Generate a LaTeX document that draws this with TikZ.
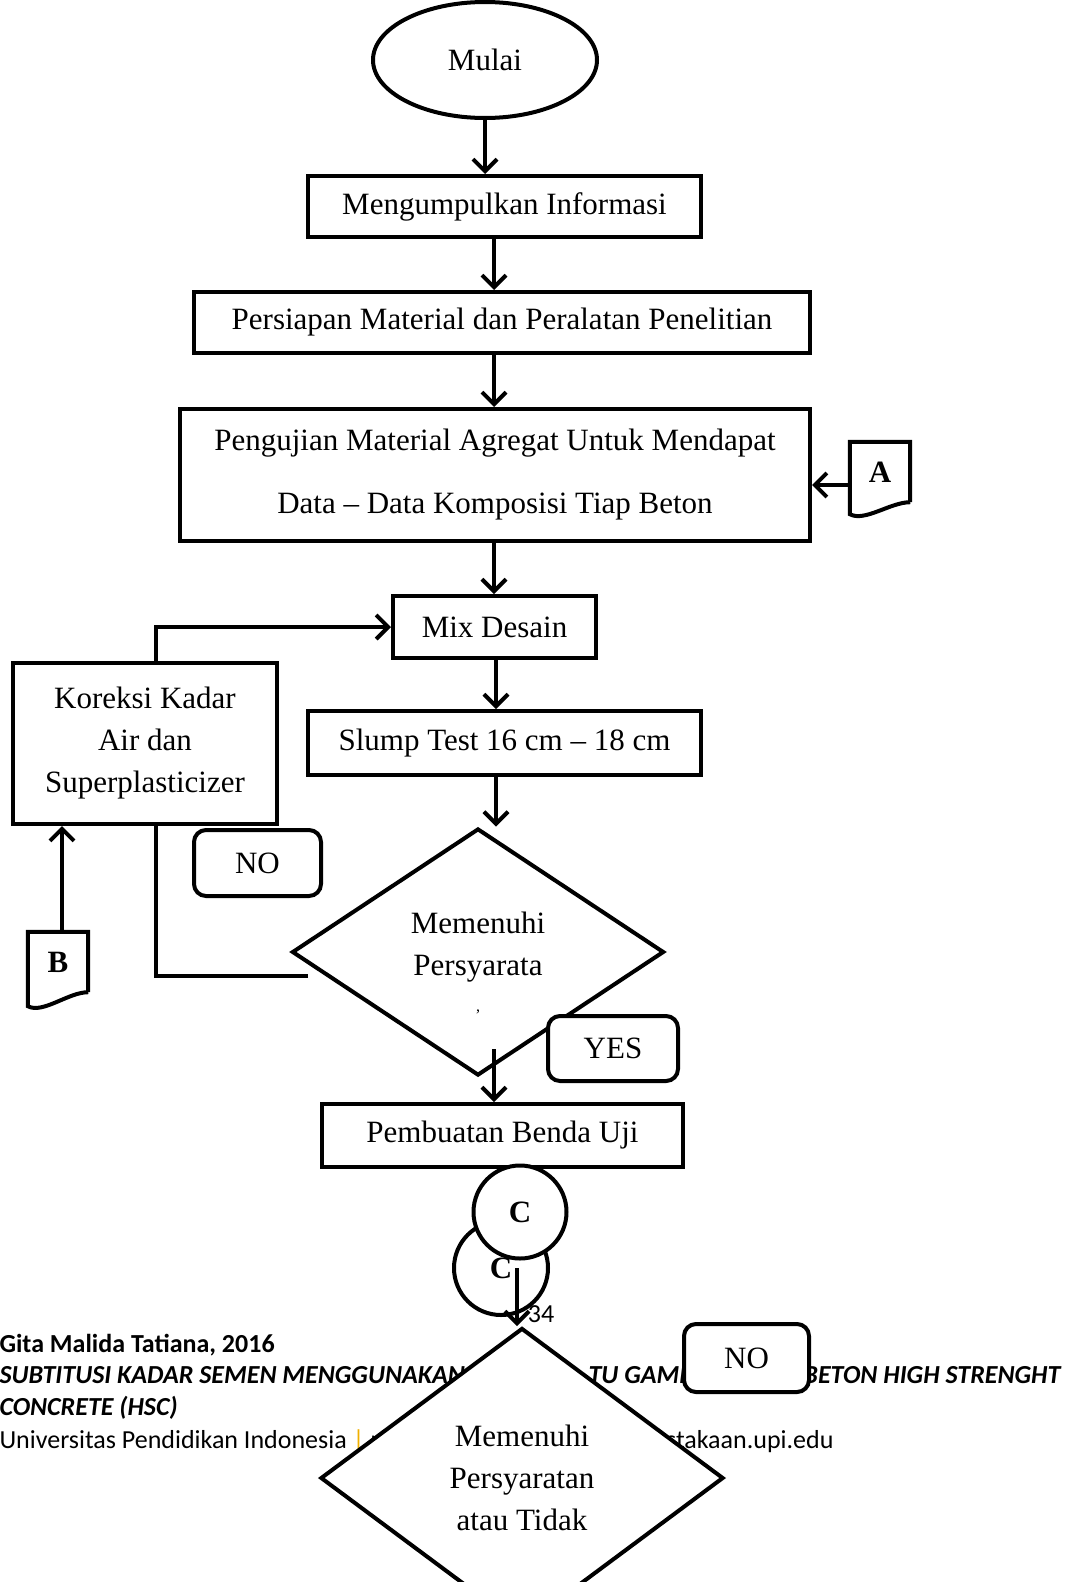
\documentclass[tikz,border=0pt]{standalone}
\usepackage{fontspec}
\setmainfont{Liberation Serif}
\newfontfamily\footfont{Carlito}
\usetikzlibrary{shapes.geometric,arrows.meta}

\definecolor{kuning}{RGB}{240,176,0}

\tikzset{
  garis/.style={line width=4pt},
  panah/.style={garis,-{Straight Barb[length=12pt,width=24pt]}},
  teks/.style={font=\fontsize{31}{42}\selectfont},
  kotak/.style={teks,draw,garis,fill=white,inner sep=0pt,align=center},
  tombol/.style={kotak,rounded corners=12pt},
  keputusan/.style={kotak,diamond,aspect=1.45},
  lingkaran/.style={kotak,circle,font=\fontsize{31}{31}\selectfont\bfseries},
  dokumen/.style={teks,font=\fontsize{31}{31}\selectfont\bfseries,minimum width=60pt,minimum height=60pt,inner sep=0pt},
  kaki/.style={anchor=base west,font=\footfont\fontsize{26}{26}\selectfont},
  kakitebal/.style={kaki,font=\footfont\bfseries\fontsize{26}{26}\selectfont},
  kakimiring/.style={kaki,font=\footfont\bfseries\itshape\fontsize{26}{26}\selectfont}
}

\begin{document}
\begin{tikzpicture}[x=1pt,y=-1pt]
\clip (0,0) rectangle (1073,1582);

% kaki halaman
\node[kakitebal] (kaki1) at (-4,1352) {Gita Malida Tatiana,\ 2016};
\node[kakimiring] (kaki2) at (-4,1383) {SUBTITUSI KADAR SEMEN MENGGUNAKAN};
\node[kakimiring] (kaki2b) at (585,1383) {TU GAMPING};
\node[kakimiring,anchor=base east] (kaki2c) at (1064,1383) {BETON HIGH STRENGHT};
\node[kakimiring] (kaki3) at (-4,1415) {CONCRETE (HSC)};
\node[kaki] (kaki4) at (-4,1448) {Universitas Pendidikan Indonesia \textcolor{kuning}{|} repository.upi.edu \textcolor{kuning}{|}};
\node[kaki,anchor=base east] (kaki4b) at (837,1448) {perpustakaan.upi.edu};

% alur utama
\node[kotak,ellipse,minimum width=224pt,minimum height=116pt] (mulai) at (485,60) {Mulai};
\node[kotak,minimum width=393pt,minimum height=61pt] (info) at (504.5,206.5) {Mengumpulkan Informasi};
\node[kotak,minimum width=616pt,minimum height=61pt] (persiapan) at (502,322.5) {Persiapan Material dan Peralatan Penelitian};
\node[kotak,minimum width=630pt,minimum height=132pt,font=\fontsize{31}{63}\selectfont] (pengujian) at (495,475) {Pengujian Material Agregat Untuk Mendapat\\Data -- Data Komposisi Tiap Beton};
\node[kotak,minimum width=203pt,minimum height=62pt] (mix) at (494.5,627) {Mix Desain};
\node[kotak,minimum width=393pt,minimum height=64pt] (slump) at (504.5,743) {Slump Test 16 cm -- 18 cm};
\node[kotak,minimum width=264pt,minimum height=161pt] (koreksi) at (145,743.5) {Koreksi Kadar\\Air dan\\Superplasticizer};
\node[tombol,minimum width=127pt,minimum height=66pt] (tidak1) at (257.5,863) {NO};
\node[keputusan,minimum width=372pt,minimum height=247pt] (uji1) at (478,952)
  {\raisebox{-12pt}[\height][\depth]{\begin{tabular}{@{}c@{}}Memenuhi\\Persyarata\\[-6pt]{\fontsize{16}{16}\selectfont ,}\end{tabular}}};
\node[tombol,minimum width=130pt,minimum height=65pt] (ya) at (613,1048.5) {YES};
\node[kotak,minimum width=361pt,minimum height=63pt] (benda) at (502.5,1135.5) {Pembuatan Benda Uji};
\node[lingkaran,minimum size=94pt] (c2) at (501,1268) {C};
\node[lingkaran,minimum size=93pt] (c1) at (520,1212) {C};
\node[keputusan,minimum width=403pt,minimum height=300pt] (uji2) at (522,1478) {Memenuhi\\Persyaratan\\atau Tidak};
\node[tombol,minimum width=125pt,minimum height=68pt] (tidak2) at (746.5,1358) {NO};
\node[font=\footfont\fontsize{26}{26}\selectfont,inner sep=0pt] (halaman) at (541,1314) {34};

% penghubung
\node[dokumen] (docA) at (880,472) {A};
\draw[garis] (docA.south east) -- (docA.north east) -- (docA.north west) -- ([yshift=-12pt]docA.south west) .. controls +(15,8) and +(-20,0) .. (docA.south east);
\node[dokumen] (docB) at (58,962) {B};
\draw[garis] (docB.south east) -- (docB.north east) -- (docB.north west) -- ([yshift=-14pt]docB.south west) .. controls +(15,8) and +(-20,0) .. (docB.south east);

% garis alir
\coordinate (jalur1) at (494,0);
\coordinate (jalur2) at (496,0);
\coordinate (jalur3) at (517,0);
\coordinate (jalurKiri) at (156,0);
\coordinate (yaMulai) at (494,1049);
\coordinate (tidakUjung) at (308,976);

\draw[panah] (mulai.south) -- (mulai.south |- info.north);
\draw[panah] (jalur1 |- info.south) -- (jalur1 |- persiapan.north);
\draw[panah] (jalur1 |- persiapan.south) -- (jalur1 |- pengujian.north);
\draw[panah] (jalur1 |- pengujian.south) -- (jalur1 |- mix.north);
\draw[panah] (jalur2 |- mix.south) -- (jalur2 |- slump.north);
\draw[panah] (jalur2 |- slump.south) -- (jalur2 |- uji1.north);
\draw[panah] (yaMulai) -- (yaMulai |- benda.north);
\draw[panah] (jalur3 |- c2.center) -- (jalur3 |- uji2.north);
\draw[panah] ([yshift=-13pt]docA.west) -- ([yshift=-13pt]docA.west -| pengujian.east);
\draw[panah] (jalurKiri |- koreksi.north) |- (mix.west);
\draw[garis] (tidakUjung) -| (jalurKiri |- koreksi.south);
\draw[panah] ([xshift=4pt]docB.north) -- ([xshift=4pt]docB.north |- koreksi.south);
\end{tikzpicture}
\end{document}
